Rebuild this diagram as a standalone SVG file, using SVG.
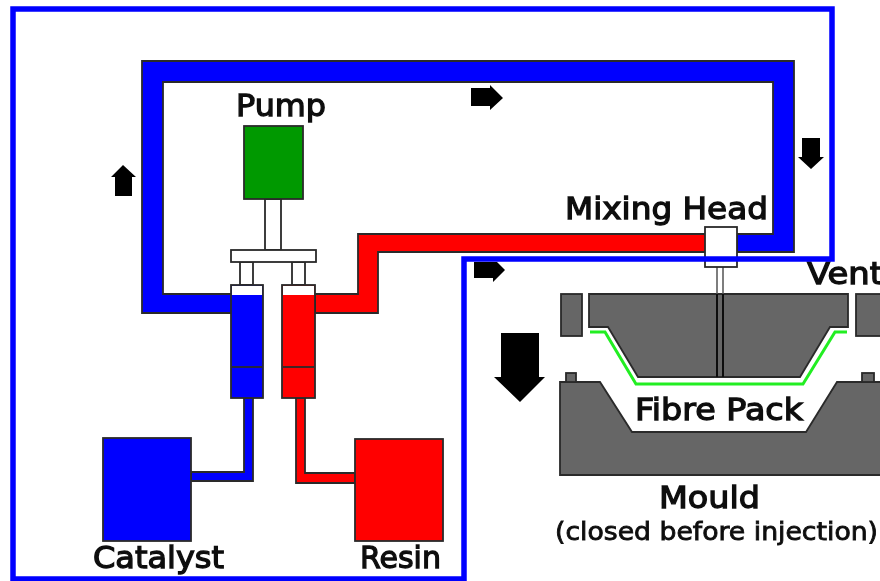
<svg xmlns="http://www.w3.org/2000/svg" width="880" height="581" viewBox="0 0 880 581">
<style>
.o{stroke:#2a2a2a;stroke-width:1.8;stroke-linejoin:miter}
.blue{fill:#0000ff}.red{fill:#ff0000}.white{fill:#fff}.green{fill:#009900}.grey{fill:#666}
.arrow{fill:#000}
text{font-family:"DejaVu Sans","Liberation Sans",sans-serif;font-weight:normal;fill:#111;stroke:#111;stroke-width:1.3;font-size:31px}
</style>
<defs><filter id="soft" x="-2%" y="-2%" width="104%" height="104%"><feGaussianBlur stdDeviation="0.65"/></filter></defs>
<rect width="880" height="581" fill="#fff"/>
<g filter="url(#soft)">
<g id="connectors">
<path class="o blue" d="M232,294H163V82H773V234H737V252H794V61H142V313H232Z"/>
<path class="o red" d="M315,294H358V234H706V252H378V313H315Z"/>
<path class="o blue" d="M244,398V472H191V481H253V398Z"/>
<path class="o red" d="M296,398V483H355V473H305V398Z"/>
<path class="o white" d="M265,199V250H281V199Z"/>
<path class="o white" d="M240,262V285H253V262ZM292,262V285H305V262Z"/>
</g>
<g id="pump"><rect class="o green" x="244" y="126" width="59" height="73"/><text x="236" y="116" textLength="90" lengthAdjust="spacingAndGlyphs">Pump</text></g>
<g id="piston-bar"><rect class="o white" x="231" y="250" width="85" height="12"/></g>
<g id="catalyst-cylinder"><rect class="o blue" x="231" y="285" width="32" height="113"/><rect class="white" x="232" y="286" width="30" height="9"/><path class="o" d="M232,367H262" fill="none"/></g>
<g id="resin-cylinder"><rect class="o red" x="282" y="285" width="33" height="113"/><rect class="white" x="283" y="286" width="31" height="9"/><path class="o" d="M283,367H314" fill="none"/></g>
<g id="catalyst"><rect class="o blue" x="103" y="438" width="88" height="103"/><text x="93" y="568" textLength="131" lengthAdjust="spacingAndGlyphs">Catalyst</text></g>
<g id="resin"><rect class="o red" x="355" y="439" width="88" height="102"/><text x="360" y="568" textLength="81" lengthAdjust="spacingAndGlyphs">Resin</text></g>
<g id="upper-mould"><path class="o grey" d="M589,294H848V327H830L800,377H638L608,327H589Z"/><path d="M590,332H605L636,384H803L835,332H847" fill="none" stroke="#22ee22" stroke-width="3"/></g>
<g id="vent-left"><rect class="o grey" x="561" y="294" width="21" height="42"/></g>
<g id="vent-right"><rect class="o grey" x="856" y="294" width="26" height="42"/></g>
<g id="lower-mould"><path class="o grey" d="M560,382H600L632,432H806L837,382H882V475H560Z"/><rect class="o grey" x="566" y="373" width="10" height="9"/><rect class="o grey" x="862" y="373" width="12" height="9"/></g>
<g id="mixing-head"><path d="M717,267V294M723,267V294" stroke="#555" stroke-width="1.5" fill="none"/><path d="M717,294V377M723,294V377" stroke="#111" stroke-width="2" fill="none"/><rect class="o white" x="705" y="227" width="32" height="40"/><text x="565" y="219" textLength="203" lengthAdjust="spacingAndGlyphs">Mixing Head</text></g>
<g id="labels">
<text x="807" y="284" textLength="76" lengthAdjust="spacingAndGlyphs">Vent</text>
<text x="635" y="420" textLength="168" lengthAdjust="spacingAndGlyphs">Fibre Pack</text>
<text x="659" y="508" textLength="101" lengthAdjust="spacingAndGlyphs">Mould</text>
<text x="555" y="540" textLength="323" lengthAdjust="spacingAndGlyphs" style="font-size:24px;stroke-width:0.8">(closed before injection)</text>
</g>
<g id="flow-arrows">
<path class="arrow" d="M471,88H490V85L503,98L490,110V106H471Z"/>
<path class="arrow" d="M802,138H820V157H824L811,169L798,157H802Z"/>
<path class="arrow" d="M115,196V177H111L123,165L136,177H132V196Z"/>
<path class="arrow" d="M474,262H497L505,270L493,282V278H474Z"/>
<path class="arrow" d="M501,333H539V377H545L520,402L494,377H501Z"/>
</g>
</g>
<g id="frame"><path d="M13,9H832V259H464V579H13Z" fill="none" stroke="#0000ff" stroke-width="5.5"/></g>
</svg>
